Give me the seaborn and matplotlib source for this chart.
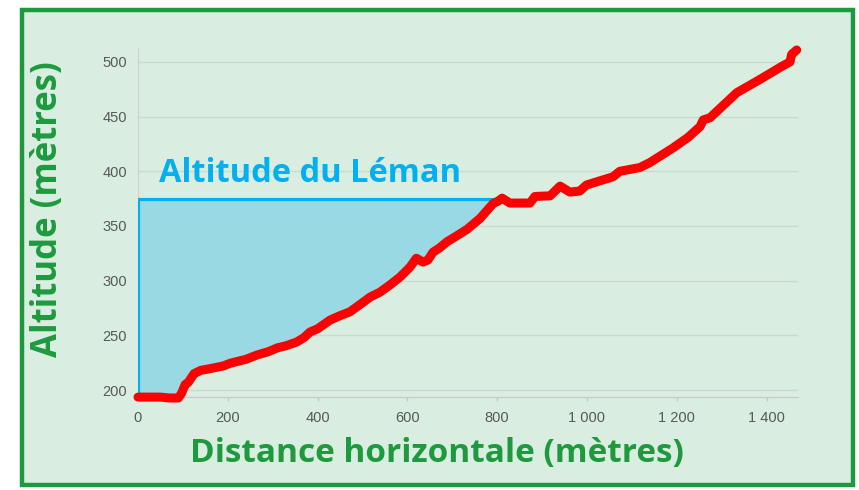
import numpy as np
import pandas as pd
import matplotlib
matplotlib.use("Agg")
import matplotlib.pyplot as plt
from matplotlib.patches import Rectangle
import seaborn as sns

# ---- data ----
distance = [0, 50, 70, 90, 97, 105, 112, 125, 140, 160, 190, 205, 220, 240, 265,
            290, 310, 330, 354, 370, 383, 400, 428, 450, 472, 494, 517, 539, 561,
            584, 606, 620, 635, 646, 657, 672, 688, 710, 733, 762, 777, 791, 803,
            811, 828, 873, 884, 918, 940, 962, 984, 999, 1030, 1058, 1073, 1118,
            1140, 1192, 1225, 1252, 1259, 1274, 1334, 1385, 1434, 1452, 1456, 1467]
altitude = [193.5, 193.5, 192.7, 192.7, 197, 205, 207, 215, 218, 219.5, 222, 224.4,
            226, 228, 232, 235, 238.5, 240.5, 244, 248, 253, 256, 264, 268, 271.5,
            278, 285, 289.5, 296, 303.5, 312.5, 320.5, 317, 319, 326, 330, 335.5,
            341, 347, 357, 364, 370.5, 373, 375.5, 371, 371, 377, 377.6, 386.5, 381,
            382, 387.5, 391.5, 395, 400, 403.5, 408, 421.5, 431, 441, 447, 449, 472,
            484, 496, 500, 507, 511]

LAKE_LEVEL = 375
LAKE_LABEL = "Altitude du Léman"
XLABEL = "Distance horizontale (mètres)"
YLABEL = "Altitude (mètres)"
XTICKS = [0, 200, 400, 600, 800, 1000, 1200, 1400]
XTICK_LABELS = ["0", "200", "400", "600", "800", "1 000", "1 200", "1 400"]
YTICKS = [200, 250, 300, 350, 400, 450, 500]

# ---- styling ----
BG = "#d9ede0"
GREEN = "#1e9a3e"
CYAN = "#00b0f0"
FILL = "#98d9e4"
RED = "#ff0000"
GRID = "#cbd9cf"
TICK_GRAY = "#595959"
TITLE_FONT = ["Open Sans", "DejaVu Sans"]

df = pd.DataFrame({"distance": distance, "altitude": altitude})

fig = plt.figure(figsize=(8.59, 4.90), dpi=100, facecolor="white")
fig.patches.append(Rectangle((22 / 859, 5 / 490), 831 / 859, 475 / 490,
                             transform=fig.transFigure, facecolor=BG,
                             edgecolor=GREEN, linewidth=3.2, zorder=-5))

ax = fig.add_axes([138 / 859, 1 - 397 / 490, 660 / 859, 349 / 490])
ax.set_facecolor("none")
ax.set_zorder(2)

# lake region: from x=0 up to the first point where the profile reaches lake level
x = df["distance"].to_numpy(float)
y = df["altitude"].to_numpy(float)
i = int(np.argmax(y >= LAKE_LEVEL))
lake_end = float(np.interp(LAKE_LEVEL, [y[i - 1], y[i]], [x[i - 1], x[i]]))
mask = x <= lake_end
xs = np.append(x[mask], lake_end)
ys = np.append(y[mask], LAKE_LEVEL)
ax.fill_between(xs, ys, LAKE_LEVEL, color=FILL, linewidth=0, zorder=2)
ax.plot([x[0], x[0], lake_end], [y[0], LAKE_LEVEL, LAKE_LEVEL], color=CYAN,
        lw=2.3, zorder=3, solid_joinstyle="miter")

sns.lineplot(data=df, x="distance", y="altitude", ax=ax, color=RED, lw=6.5,
             zorder=5, solid_capstyle="round", solid_joinstyle="round",
             clip_on=False)

ax.set_xlim(0, 1470)
ax.set_ylim(193.6, 512.8)
ax.set_xticks(XTICKS)
ax.set_xticklabels(XTICK_LABELS)
ax.set_yticks(YTICKS)
ax.tick_params(axis="y", length=0, pad=8, labelsize=10.5, labelcolor=TICK_GRAY)
ax.tick_params(axis="x", length=3, width=1, color="#c8c8c8", pad=7,
               labelsize=10.5, labelcolor=TICK_GRAY)
for lab in ax.get_xticklabels() + ax.get_yticklabels():
    lab.set_fontfamily(["Liberation Sans", "DejaVu Sans"])
ax.grid(axis="y", color=GRID, lw=1, zorder=1)
ax.set_axisbelow(True)
for s in ["top", "right"]:
    ax.spines[s].set_visible(False)
ax.spines["left"].set_color("#d0d0d0")
ax.spines["bottom"].set_color("#c8c8c8")
ax.set_xlabel("")
ax.set_ylabel("")

ax.text(383, 390.5, LAKE_LABEL, ha="center", va="baseline", color=CYAN,
        fontsize=23.5, fontweight="bold", family=TITLE_FONT, zorder=6)

fig.text(437 / 859, 1 - 453 / 490, XLABEL, ha="center", va="center",
         color=GREEN, fontsize=24, fontweight="bold", family=TITLE_FONT)
fig.text(48 / 859, 1 - 209 / 490, YLABEL, ha="center", va="center",
         rotation=90, color=GREEN, fontsize=25, fontweight="bold",
         family=TITLE_FONT)

fig.savefig("out.png", dpi=100, facecolor="white")
